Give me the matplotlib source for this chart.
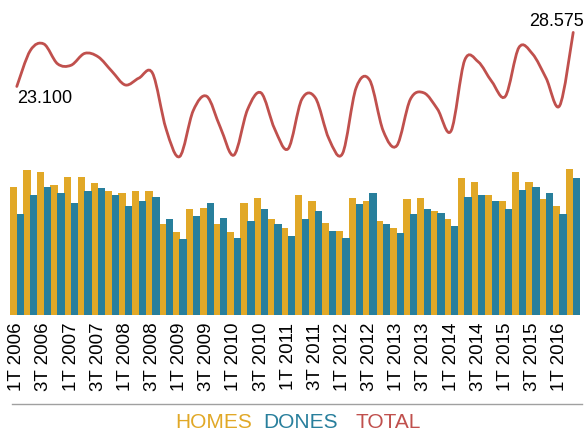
import matplotlib
matplotlib.use('Agg')
import matplotlib.pyplot as plt
from matplotlib.path import Path
from matplotlib.patches import PathPatch
from matplotlib.lines import Line2D
import numpy as np

# quarters 1T 2006 .. 2T 2016
quarters = [f'{q}T {y}' for y in range(2006, 2017) for q in (1, 2, 3, 4)][:42]

homes = [12950, 14600, 14450, 13100, 13950, 13950, 13300, 12500,
         12300, 12500, 12500, 9150, 8350, 10650, 10800, 9150,
         8350, 11300, 11800, 9650, 8800, 12150, 11450, 9300,
         8500, 11800, 11450, 9450, 8800, 11650, 11800, 10500,
         9650, 13800, 13450, 12150, 11450, 14450, 13450, 11650,
         11000, 14775]
dones = [10150, 12150, 12950, 12300, 11300, 12500, 12800, 12150,
         10950, 11450, 11950, 9650, 7650, 10000, 11300, 9800,
         7800, 9450, 10650, 9150, 8000, 9650, 10500, 8500,
         7800, 11150, 12300, 9150, 8300, 10150, 10650, 10300,
         8950, 11950, 12150, 11450, 10650, 12600, 12950, 12300,
         10150, 13800]
total = [23100, 26750, 27400, 25400, 25250, 26450, 26100, 24650,
         23250, 23950, 24450, 18800, 16000, 20650, 22100, 18950,
         16150, 20750, 22450, 18800, 16800, 21800, 21950, 17800,
         16300, 22950, 23750, 18600, 17100, 21800, 22450, 20800,
         18600, 25750, 25600, 23600, 22100, 27050, 26400, 23950,
         21150, 28575]

YELLOW = '#E1A827'
BLUE = '#287F9C'
RED = '#C0504D'
LABEL_FONT = ['Liberation Sans', 'DejaVu Sans']


def smooth_path(xs, ys):
    # catmull-rom style smoothing, like a spreadsheet "smoothed line"
    pts = np.column_stack([xs, ys]).astype(float)
    verts = [pts[0]]
    codes = [Path.MOVETO]
    n = len(pts)
    for i in range(n - 1):
        p0 = pts[i - 1] if i > 0 else pts[i]
        p1 = pts[i]
        p2 = pts[i + 1]
        p3 = pts[i + 2] if i + 2 < n else pts[i + 1]
        c1 = p1 + (p2 - p0) / 6.0
        c2 = p2 - (p3 - p1) / 6.0
        verts += [c1, c2, p2]
        codes += [Path.CURVE4] * 3
    return Path(verts, codes)


def make_chart():
    fig = plt.figure(figsize=(5.86, 4.34), dpi=100)
    ax = fig.add_axes([10 / 586, 1 - 314.5 / 434, 570 / 586, 314.5 / 434])

    x = np.arange(len(quarters))
    # slightly overlapping widths so no white seams show between groups
    ax.bar(x - 0.25, homes, width=0.54, color=YELLOW, linewidth=0)
    ax.bar(x + 0.25, dones, width=0.54, color=BLUE, linewidth=0)

    patch = PathPatch(smooth_path(x, total), facecolor='none',
                      edgecolor=RED, linewidth=2.0, capstyle='round')
    ax.add_patch(patch)

    ax.text(x[0], total[0] - 400, '23.100', ha='left', va='top',
            fontsize=13, family=LABEL_FONT)
    ax.text(x[-1] + 0.8, total[-1] + 200, '28.575', ha='right', va='bottom',
            fontsize=13, family=LABEL_FONT)

    ax.set_xlim(-0.5, len(quarters) - 0.5)
    ax.set_ylim(0, 314.5 * 101.3)
    ax.set_xticks(x[::2])
    ax.set_xticklabels(quarters[::2], rotation=90, fontsize=13.5,
                       family=LABEL_FONT)
    ax.tick_params(axis='x', length=0, pad=6)
    ax.set_yticks([])
    for s in ax.spines.values():
        s.set_visible(False)
    ax.patch.set_alpha(0)

    fig.add_artist(Line2D([12 / 586, 582 / 586], [1 - 404 / 434] * 2,
                          color='#A0A0A0', linewidth=1.0))
    legend_y = 1 - 422 / 434
    for label, color, xl in [('HOMES', YELLOW, 175), ('DONES', BLUE, 263),
                             ('TOTAL', RED, 355)]:
        fig.text(xl / 586, legend_y, label, color=color, ha='left',
                 va='center', fontsize=15, family=LABEL_FONT)

    fig.savefig('out.png', dpi=100)


if __name__ == '__main__':
    make_chart()
